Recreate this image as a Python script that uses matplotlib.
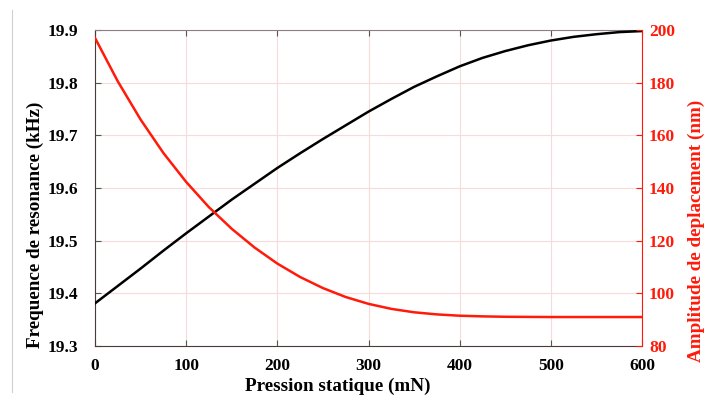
import matplotlib
matplotlib.use("Agg")
import matplotlib.pyplot as plt
from matplotlib.lines import Line2D

plt.rcParams['font.family'] = ['Liberation Serif', 'DejaVu Serif']
plt.rcParams['font.weight'] = 'bold'

pression = [0, 25, 50, 75, 100, 125, 150, 175, 200, 225, 250, 275, 300,
            325, 350, 375, 400, 425, 450, 475, 500, 525, 550, 575, 600]
frequence = [19.381, 19.414, 19.447, 19.481, 19.514, 19.546, 19.578, 19.608,
             19.638, 19.666, 19.693, 19.719, 19.745, 19.769, 19.792, 19.812,
             19.831, 19.847, 19.860, 19.871, 19.880, 19.887, 19.892, 19.896,
             19.898]
amplitude = [197.0, 180.5, 166.0, 153.3, 142.3, 132.7, 124.5, 117.4, 111.3,
             106.2, 102.0, 98.6, 96.0, 94.1, 92.8, 92.0, 91.5, 91.25, 91.1,
             91.05, 91.0, 91.0, 91.0, 91.0, 91.0]

x_ticks = [0, 100, 200, 300, 400, 500, 600]
left_ticks = [19.3, 19.4, 19.5, 19.6, 19.7, 19.8, 19.9]
right_ticks = [80, 100, 120, 140, 160, 180, 200]

RED = '#ff1a0a'
GRID = '#f7dada'
W, H = 706, 396

fig = plt.figure(figsize=(W / 100, H / 100), dpi=100)
ax = fig.add_axes([95 / W, 1 - 346 / H, 547 / W, 316 / H])
ax2 = ax.twinx()

ax.plot(pression, frequence, color='black', lw=1.8, zorder=3,
        solid_joinstyle='round')
ax2.plot(pression, amplitude, color=RED, lw=1.8, zorder=3,
         solid_joinstyle='round')

ax.set_xlim(0, 600)
ax.set_ylim(19.3, 19.9)
ax2.set_ylim(80, 200)
ax.set_xticks(x_ticks)
ax.set_yticks(left_ticks)
ax.set_yticklabels([f"{v:.1f}" for v in left_ticks])
ax2.set_yticks(right_ticks)

ax.grid(True, color=GRID, lw=0.8)
ax.set_axisbelow(True)

ax.tick_params(axis='both', direction='in', labelsize=12.5, length=4,
               color='#555555', top=True)
ax.tick_params(axis='x', pad=9)
ax.tick_params(axis='y', pad=12)
ax2.tick_params(axis='y', direction='in', labelsize=12.5, length=4,
                colors=RED, pad=5)
for lab in ax.get_xticklabels() + ax.get_yticklabels() + ax2.get_yticklabels():
    lab.set_fontweight('bold')

for s in ['left', 'bottom']:
    ax.spines[s].set_color('#4a3a3a')
ax.spines['top'].set_color('#8a8080')
for s in ['left', 'bottom', 'top']:
    ax2.spines[s].set_visible(False)
ax2.spines['right'].set_color(RED)
ax.spines['right'].set_visible(False)

fig.text(338 / W, 1 - 386 / H, 'Pression statique (mN)', fontsize=13.8,
         fontweight='bold', ha='center', va='center')
fig.text(35 / W, 1 - 225 / H, 'Frequence de resonance (kHz)', fontsize=13.8,
         fontweight='bold', ha='center', va='center', rotation=90)
fig.text(696 / W, 1 - 231 / H, 'Amplitude de deplacement (nm)', fontsize=13.8,
         fontweight='bold', ha='center', va='center', rotation=90, color=RED)

fig.add_artist(Line2D([12 / W, 12 / W], [1 - 10 / H, 1 - 392 / H],
                      transform=fig.transFigure, color='#d0d0d0', lw=0.8))

fig.savefig('out.png', dpi=100)
